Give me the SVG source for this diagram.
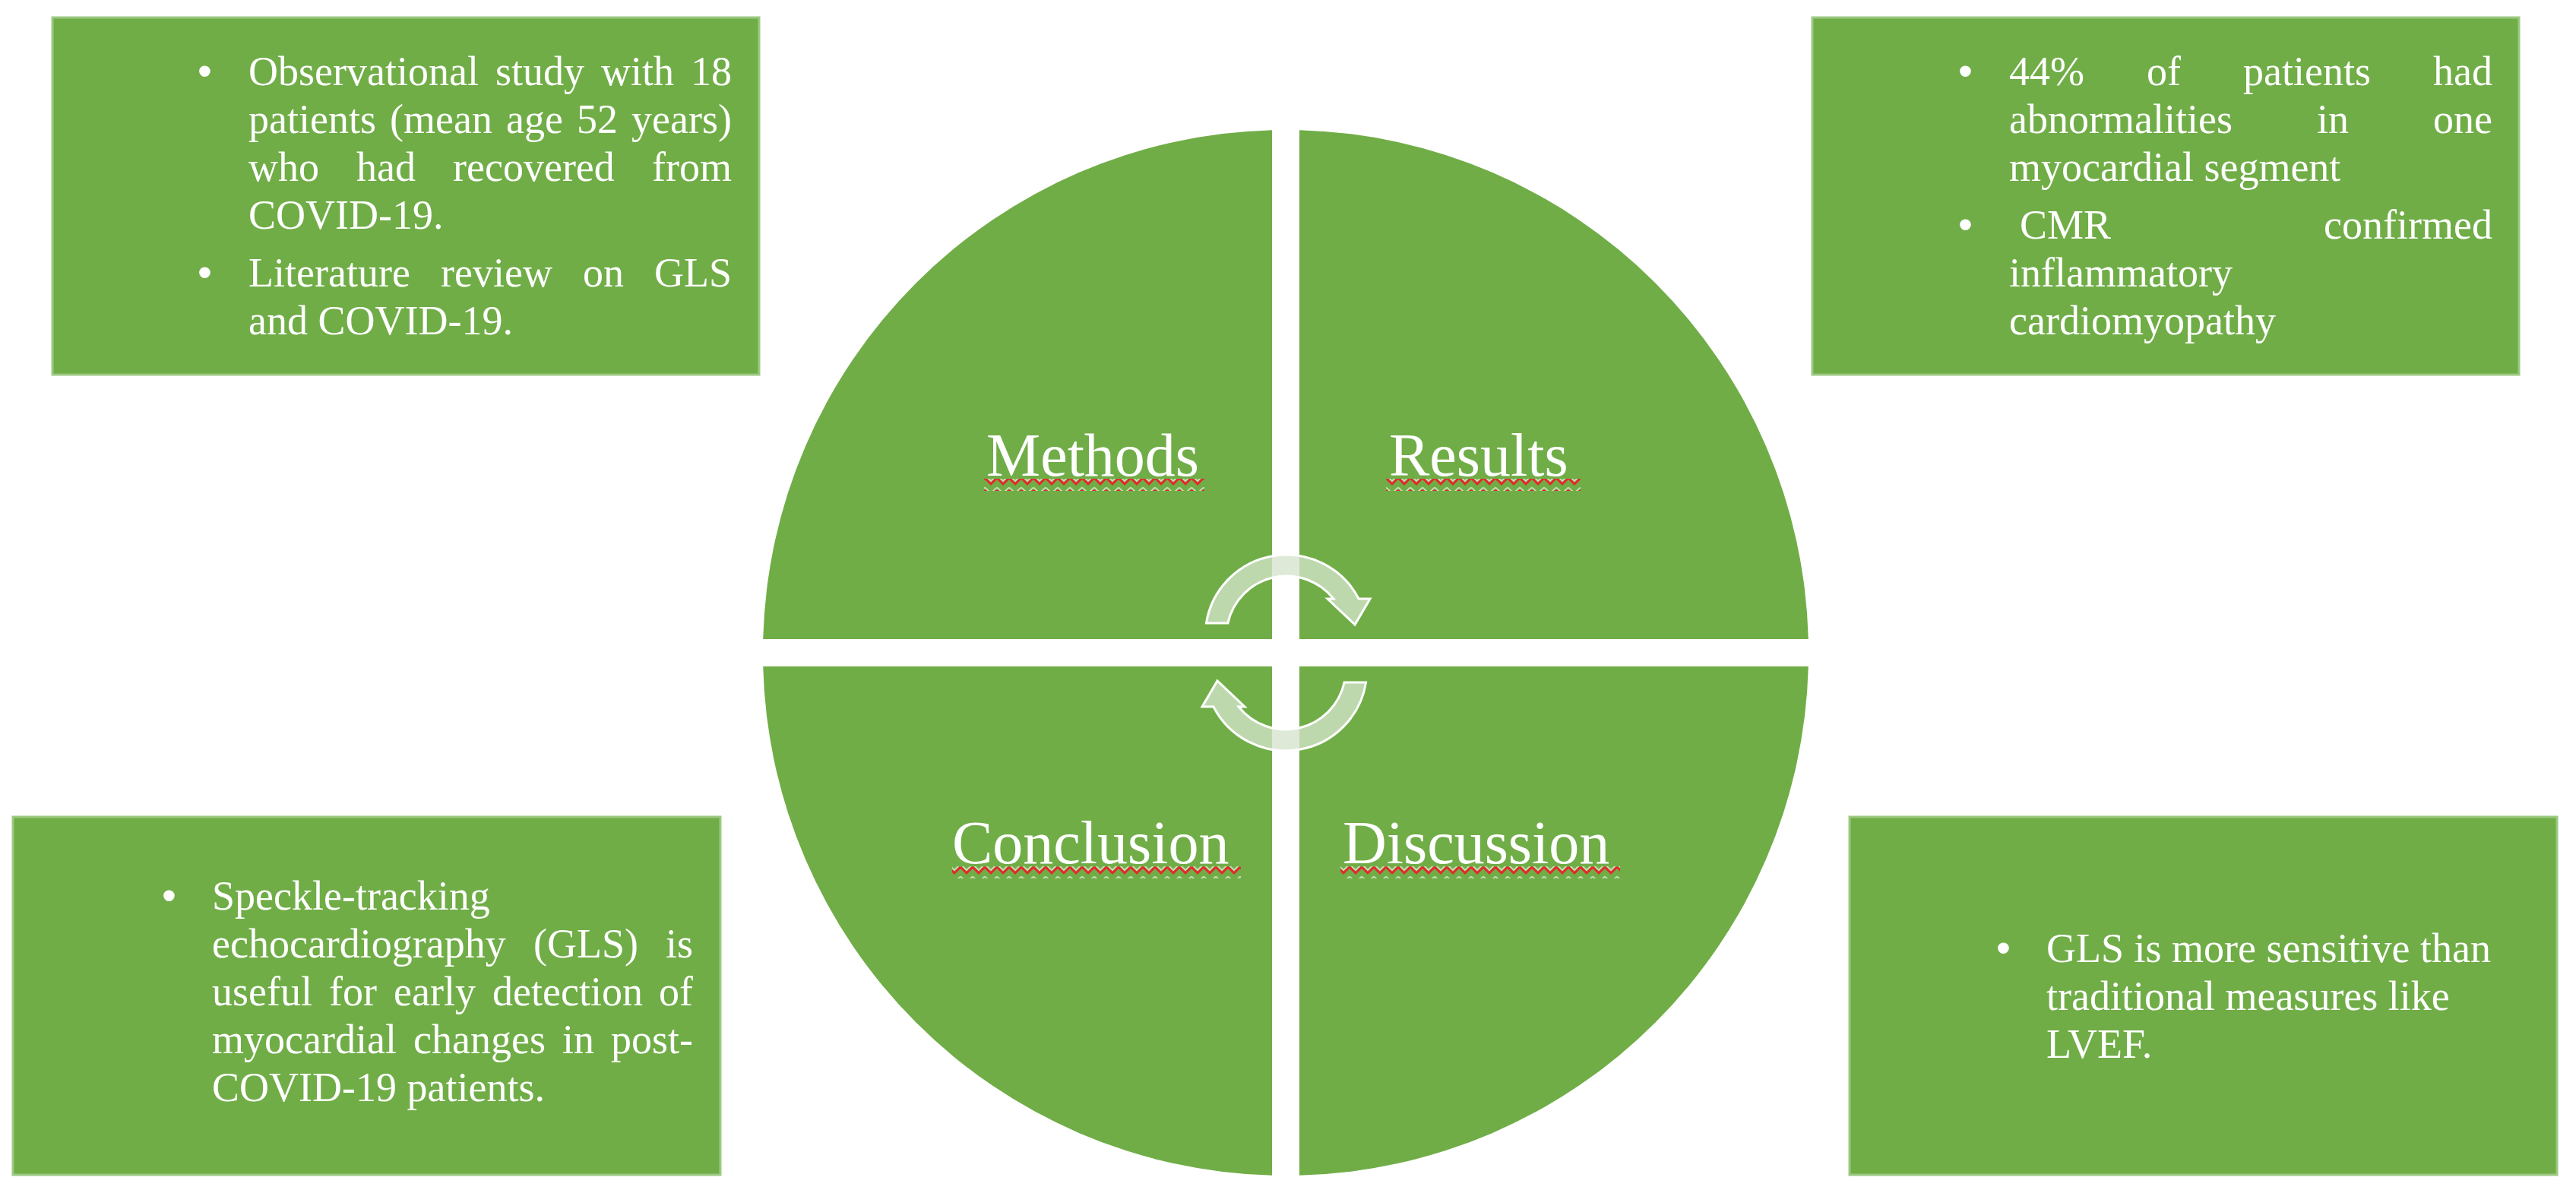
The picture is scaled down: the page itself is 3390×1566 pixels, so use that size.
<svg xmlns="http://www.w3.org/2000/svg" width="3390" height="1566" viewBox="0 0 3390 1566">
<style>
.box{fill:#70AD47;stroke:#9cc982;stroke-width:3}
.pie{fill:#70AD47}
.t{font-family:"Liberation Serif","Times New Roman",serif;font-size:54px;fill:#ffffff}
.b{font-family:"Liberation Sans",Arial,sans-serif;font-size:54px;fill:#ffffff}
.lbl{font-family:"Liberation Serif","Times New Roman",serif;font-size:80px;fill:#ffffff}
.e{text-anchor:end}
.arrow{fill:#d5e4cc;fill-opacity:0.78;stroke:#ffffff;stroke-width:3;stroke-linejoin:miter}
</style>
<defs>
<pattern id="squiggle" patternUnits="userSpaceOnUse" width="16" height="16">
<polyline points="0,1.5 8,9 16,1.5" fill="none" stroke="#ffffff" stroke-opacity="0.6" stroke-width="2"/>
<polyline points="0,5 8,13 16,5" fill="none" stroke="#e8262c" stroke-width="3"/>
</pattern>
<path id="cyc" d="M1587.4,820 A107,107 0 0 1 1788.1,788 L1803,788 L1783,822 L1747,788 L1755,788 A79,79 0 0 0 1615.9,820 Z"/>
</defs>
<rect width="3390" height="1566" fill="#ffffff"/>

<g id="box-methods">
<rect class="box" x="69" y="23" width="930" height="470"/>
<text class="b" x="260" y="112">•</text>
<text class="t" x="327" y="112">Observational</text>
<text class="t" x="652" y="112">study</text>
<text class="t" x="791" y="112">with</text>
<text class="t e" x="963" y="112">18</text>
<text class="t" x="327" y="175">patients</text>
<text class="t" x="513" y="175">(mean</text>
<text class="t" x="666" y="175">age</text>
<text class="t" x="759" y="175">52</text>
<text class="t e" x="963" y="175">years)</text>
<text class="t" x="327" y="238">who</text>
<text class="t" x="469" y="238">had</text>
<text class="t" x="596" y="238">recovered</text>
<text class="t e" x="963" y="238">from</text>
<text class="t" x="327" y="301">COVID-19.</text>
<text class="b" x="260" y="377">•</text>
<text class="t" x="327" y="377">Literature</text>
<text class="t" x="580" y="377">review</text>
<text class="t" x="767" y="377">on</text>
<text class="t e" x="963" y="377">GLS</text>
<text class="t" x="327" y="440">and COVID-19.</text>
</g>

<g id="box-results">
<rect class="box" x="2385" y="23" width="930" height="470"/>
<text class="b" x="2577" y="112">•</text>
<text class="t" x="2644" y="112">44%</text>
<text class="t" x="2825" y="112">of</text>
<text class="t" x="2952" y="112">patients</text>
<text class="t e" x="3280" y="112">had</text>
<text class="t" x="2644" y="175">abnormalities</text>
<text class="t" x="3049" y="175">in</text>
<text class="t e" x="3280" y="175">one</text>
<text class="t" x="2644" y="238">myocardial segment</text>
<text class="b" x="2577" y="314">•</text>
<text class="t" x="2658" y="314">CMR</text>
<text class="t e" x="3280" y="314">confirmed</text>
<text class="t" x="2644" y="377">inflammatory</text>
<text class="t" x="2644" y="440">cardiomyopathy</text>
</g>

<g id="box-conclusion">
<rect class="box" x="17" y="1075" width="931" height="471"/>
<text class="b" x="213" y="1197">•</text>
<text class="t" x="279" y="1197">Speckle-tracking</text>
<text class="t" x="279" y="1260">echocardiography</text>
<text class="t" x="702" y="1260">(GLS)</text>
<text class="t e" x="912" y="1260">is</text>
<text class="t" x="279" y="1323">useful</text>
<text class="t" x="433" y="1323">for</text>
<text class="t" x="518" y="1323">early</text>
<text class="t" x="648" y="1323">detection</text>
<text class="t e" x="912" y="1323">of</text>
<text class="t" x="279" y="1386">myocardial</text>
<text class="t" x="544" y="1386">changes</text>
<text class="t" x="740" y="1386">in</text>
<text class="t e" x="912" y="1386">post-</text>
<text class="t" x="279" y="1449">COVID-19 patients.</text>
</g>

<g id="box-discussion">
<rect class="box" x="2434" y="1075" width="931" height="471"/>
<text class="b" x="2627" y="1266">•</text>
<text class="t" x="2693" y="1266">GLS is more sensitive than</text>
<text class="t" x="2693" y="1329">traditional measures like</text>
<text class="t" x="2693" y="1392">LVEF.</text>
</g>

<g id="node-methods">
<path class="pie" d="M1674,841 L1004.2,841 A688,688 0 0 1 1674,171.2 Z"/>
<text class="lbl" x="1298" y="626">Methods</text>
<rect x="1295" y="630" width="290" height="16" fill="url(#squiggle)"/>
</g>
<g id="node-results">
<path class="pie" d="M1710,841 L1710,171.2 A688,688 0 0 1 2379.8,841 Z"/>
<text class="lbl" x="1828" y="626">Results</text>
<rect x="1824" y="630" width="256" height="16" fill="url(#squiggle)"/>
</g>
<g id="node-discussion">
<path class="pie" d="M1710,877 L2379.8,877 A688,688 0 0 1 1710,1546.8 Z"/>
<text class="lbl" x="1767" y="1136">Discussion</text>
<rect x="1764" y="1140" width="368" height="16" fill="url(#squiggle)"/>
</g>
<g id="node-conclusion">
<path class="pie" d="M1674,877 L1674,1546.8 A688,688 0 0 1 1004.2,877 Z"/>
<text class="lbl" x="1253" y="1136">Conclusion</text>
<rect x="1253" y="1140" width="380" height="16" fill="url(#squiggle)"/>
</g>

<g id="connectors">
<use href="#cyc" class="arrow"/>
<use href="#cyc" class="arrow" transform="rotate(180 1692.5 859)"/>
</g>
</svg>
